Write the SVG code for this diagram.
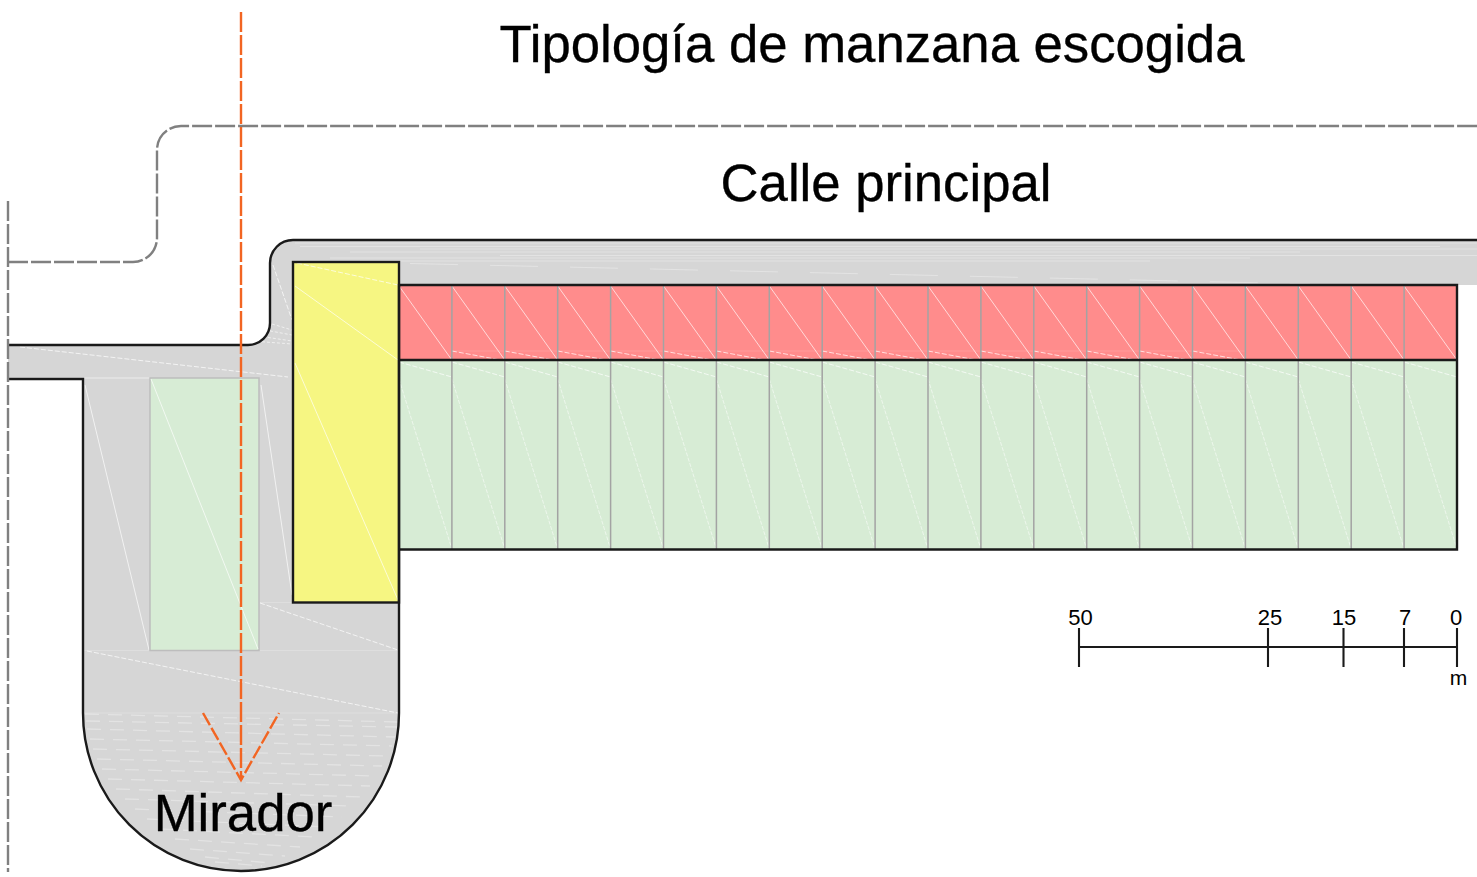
<svg xmlns="http://www.w3.org/2000/svg" xmlns:xlink="http://www.w3.org/1999/xlink" width="1477" height="877" viewBox="0 0 1477 877">
<style>
text{font-family:"Liberation Sans",Arial,sans-serif;fill:#000}
.big{font-size:52.700px;text-anchor:middle;stroke:#000;stroke-width:.35}
.sc{font-size:22px;text-anchor:middle}
.ink{stroke:#1a1a1a;stroke-width:2.400;fill:none}
.div{stroke:#a3a3a3;stroke-width:1.500}
.w{stroke:#fff;stroke-width:.9;fill:none;opacity:.75}
.wd{stroke:#fff;stroke-width:1;stroke-dasharray:5 2;fill:none;opacity:.7}
.wg{stroke:#fff;stroke-width:.9;stroke-dasharray:4 1.500;fill:none;opacity:.6}
.st{stroke:#fff;stroke-width:1;fill:none;opacity:.32}
.sm{stroke:#fff;stroke-width:1.300;fill:none;opacity:.32;stroke-dasharray:14 9}
.gd{stroke:#808080;stroke-width:2.400;stroke-dasharray:20 3;fill:none}
.od{stroke:#f26522;stroke-width:2.400;stroke-dasharray:20 3;fill:none}
.tk{stroke:#1a1a1a;stroke-width:2.100;fill:none}
</style>
<defs>
<g id="cell">
<line class="w" x1="0" y1="286" x2="52.900" y2="360"/>
<line class="wd" x1="0" y1="362" x2="52.900" y2="377"/>
<line class="wg" x1="0" y1="379" x2="52.900" y2="549"/>
</g>
<g id="cell2">
<use xlink:href="#cell"/>
<line class="wd" x1="0" y1="351" x2="46" y2="359.500"/>
<line x1="0" y1="351" x2="52.900" y2="351" stroke="#fff" stroke-width="1" opacity=".12"/>
</g>
<line id="dv" class="div" x1="0" y1="285" x2="0" y2="549"/>
</defs>

<g id="plaza">
<path fill="#d6d6d6" d="M8,345 H248 A22,22 0 0 0 270,323 V263 A23,23 0 0 1 293,240 H1477 V285 H399 V713 A158,158 0 0 1 83,713 V379 H8 Z"/>
<path class="st" d="M295,243 H1477 M300,246.500 H1440" opacity=".2"/>
<path class="st" d="M420,249 H1477 M350,252 H1300"/>
<path class="st" d="M500,255.500 H1477 M330,258 H1250"/>
<path class="st" d="M360,261 H1150"/>
<path class="st" style="stroke-dasharray:48 32" d="M410,263.500 L1310,284"/>
<path class="wd" d="M20,347 L288,377 M273,265 L292,320"/>
<path class="st" style="stroke-dasharray:3 2;opacity:.6" d="M272,324 L292,330 M265,330 L292,335 M258,336 L292,341 M252,341 L292,344"/>
<path class="st" style="opacity:.55" d="M8,378 H150"/>
<path class="w" d="M85,385 L149,650 M261,385 L292,595"/>
<path class="wd" d="M260,603 L398,650 M87,651 L398,713"/>
<path class="st" style="opacity:.2" d="M260,602.500 H398 M84,650.500 H398 M84,713 H398"/>
<path class="sm" d="M85,714 L398,722 M86,721 L397,727 M87,729 L395,737 M90,739 L392,746 M93,749 L388,756 M97,759 L382,766 M102,769 L376,776 M108,779 L370,786 M116,789 L362,797 M125,799 L352,806 M135,809 L342,817 M147,819 L328,827 M160,829 L315,837 M175,839 L300,847 M190,849 L285,856 M205,857 L270,863 M215,862 L262,866"/>
</g>
<g id="zona-verde-mirador">
<rect x="150" y="378" width="109" height="272.500" fill="#d7ecd5" stroke="#bdbdbd" stroke-width="1.500"/>
<line class="w" x1="151" y1="379" x2="258" y2="649"/>
</g>
<g id="bloque-verde">
<rect x="399" y="360" width="1058" height="189.500" fill="#d7ecd5"/>
</g>
<g id="bloque-rojo">
<rect x="399" y="285" width="1058" height="75" fill="#ff8c8c"/>
</g>
<g id="triangulos">
<use xlink:href="#cell" x="399"/>
<use xlink:href="#cell2" x="451.900"/><use xlink:href="#cell2" x="504.800"/><use xlink:href="#cell2" x="557.700"/><use xlink:href="#cell2" x="610.600"/><use xlink:href="#cell2" x="663.500"/><use xlink:href="#cell2" x="716.400"/><use xlink:href="#cell2" x="769.300"/><use xlink:href="#cell2" x="822.200"/><use xlink:href="#cell2" x="875.100"/><use xlink:href="#cell2" x="928"/><use xlink:href="#cell2" x="980.900"/><use xlink:href="#cell2" x="1033.800"/><use xlink:href="#cell2" x="1086.700"/><use xlink:href="#cell2" x="1139.600"/><use xlink:href="#cell2" x="1192.500"/>
<use xlink:href="#cell" x="1245.400"/><use xlink:href="#cell" x="1298.300"/><use xlink:href="#cell" x="1351.200"/><use xlink:href="#cell" x="1404.100"/>
<use xlink:href="#dv" x="451.900"/><use xlink:href="#dv" x="504.800"/><use xlink:href="#dv" x="557.700"/><use xlink:href="#dv" x="610.600"/><use xlink:href="#dv" x="663.500"/><use xlink:href="#dv" x="716.400"/><use xlink:href="#dv" x="769.300"/><use xlink:href="#dv" x="822.200"/><use xlink:href="#dv" x="875.100"/><use xlink:href="#dv" x="928"/><use xlink:href="#dv" x="980.900"/><use xlink:href="#dv" x="1033.800"/><use xlink:href="#dv" x="1086.700"/><use xlink:href="#dv" x="1139.600"/><use xlink:href="#dv" x="1192.500"/><use xlink:href="#dv" x="1245.400"/><use xlink:href="#dv" x="1298.300"/><use xlink:href="#dv" x="1351.200"/><use xlink:href="#dv" x="1404.100"/>
</g>
<g id="bloque-amarillo">
<rect x="293" y="262" width="106" height="340.500" fill="#f6f682"/>
<path class="wd" d="M297,263 L398,285"/>
<path class="w" d="M295,286 L398,360 M295,363 L398,600"/>
</g>
<g id="contornos">
<path class="ink" d="M8,345 H248 A22,22 0 0 0 270,323 V263 A23,23 0 0 1 293,240 H1477"/>
<path class="ink" d="M8,379 H83 V713 A158,158 0 0 0 399,713 V285 H1457 V549.500 H399 M399,360 H1457"/>
<rect class="ink" x="293" y="262" width="106" height="340.500"/>
</g>

<g id="connectors">
<path class="gd" d="M8,201 V872"/>
<path class="gd" d="M8,262 H133 A24,24 0 0 0 157,238 V150 A24,24 0 0 1 181,126 H1477"/>
<path class="od" d="M241,12 V780"/>
<path class="od" d="M203,713 L241,780 L279,713" style="stroke-dasharray:14 3"/>
</g>

<g id="titulo"><text class="big" x="872" y="62">Tipología de manzana escogida</text></g>
<g id="calle"><text class="big" x="886" y="201">Calle principal</text></g>
<g id="mirador"><text class="big" x="243" y="831">Mirador</text></g>
<g id="escala">
<path class="tk" d="M1079,647 H1457 M1079,628 V667 M1268,628 V667 M1343.500,628 V667 M1404,628 V667 M1457,628 V667"/>
<text class="sc" x="1080.500" y="625">50</text>
<text class="sc" x="1270" y="625">25</text>
<text class="sc" x="1344" y="625">15</text>
<text class="sc" x="1405" y="625">7</text>
<text class="sc" x="1456" y="625">0</text>
<text class="sc" x="1458.500" y="685" style="font-size:21px">m</text>
</g>
</svg>
